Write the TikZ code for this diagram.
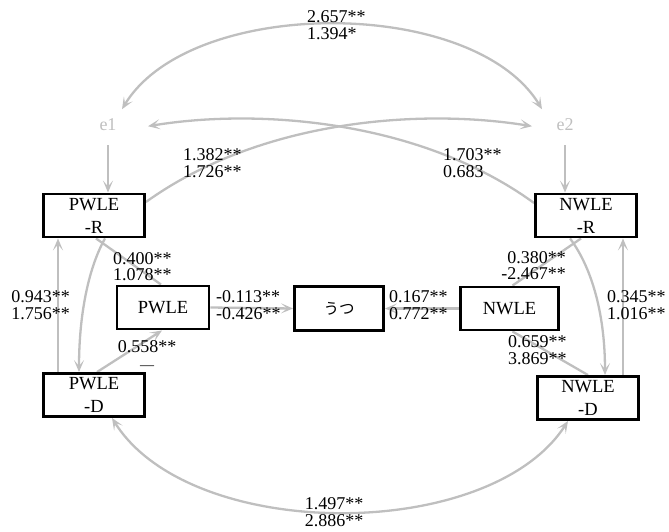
\documentclass[tikz,border=0pt]{standalone}
\usepackage{fontspec}
\setmainfont{Liberation Serif}
\newfontfamily\jpfont{Noto Sans CJK JP}
\usetikzlibrary{arrows.meta,backgrounds}
\begin{document}
\begin{tikzpicture}[x=1pt,y=-1pt,
  sembox/.style={draw=black,line width=2.9pt,fill=white,inner sep=0pt,align=center,
    minimum height=43pt,font=\fontsize{18.5}{23}\selectfont},
  wbox/.style={sembox,minimum width=101pt},
  errnode/.style={text=black!25,font=\fontsize{18}{18}\selectfont,inner sep=0pt},
  conn/.style={draw=black!25,line width=2.3pt},
  ar/.style={-{Stealth[length=12pt,width=10pt,inset=6pt]}},
  dar/.style={{Stealth[length=12pt,width=10pt,inset=6pt]}-{Stealth[length=12pt,width=10pt,inset=6pt]}},
  lab/.style={inner sep=0pt,font=\fontsize{18}{16.5}\selectfont}]
\useasboundingbox (0,0) rectangle (669,531);

% nodes
\node[errnode] (e1) at (108,125) {e1};
\node[errnode] (e2) at (565,125) {e2};
\node[wbox] (PR) at (94,215.5) {PWLE\\-R};
\node[wbox] (PD) at (94,395) {PWLE\\-D};
\node[wbox] (NR) at (586,215.5) {NWLE\\-R};
\node[wbox] (ND) at (588,398) {NWLE\\-D};
\node[sembox,minimum width=92pt] (P) at (163,307.5) {PWLE};
\node[sembox,minimum width=89pt,minimum height=44pt,font=\jpfont\fontsize{15.5}{18}\selectfont] (U) at (339,308.5) {うつ};
\node[sembox,minimum width=98pt] (N) at (509.5,308.5) {NWLE};

% connectors (behind boxes)
\begin{scope}[on background layer]
\draw[conn,ar] ([yshift=-14pt]e1.south) -- (e1.south |- PR.north);
\draw[conn,ar] ([yshift=-14pt]e2.south) -- (e2.south |- NR.north);
\draw[conn,dar] ([shift={(14pt,22pt)}]e1.south) .. controls (190,-4) and (474,-4) .. ([shift={(-23pt,22pt)}]e2.south);
\draw[conn,ar] ([yshift=13.5pt]PR.east) .. controls (260,120) and (420,108) .. ([shift={(-33pt,5pt)}]e2.south);
\draw[conn,ar] ([yshift=12.5pt]NR.west) .. controls (420,120) and (258,108) .. ([shift={(40pt,5pt)}]e1.south);
\draw[conn,ar] ([xshift=11pt]PR.south) .. controls (90,265) and (79,310) .. ([xshift=-15pt]PD.north);
\draw[conn,ar] ([xshift=-36pt]PD.north) -- ([xshift=-36pt]PD.north |- PR.south);
\draw[conn] ([xshift=2pt]PR.south) -- ([xshift=-2pt]P.north);
\draw[conn,ar] ([xshift=3pt]PD.north) -- ([xshift=-1pt]P.south);
\draw[conn,ar] (P.east) -- (U.west);
\draw[conn,ar] (N.west) -- (U.east);
\draw[conn] ([xshift=-5pt]NR.south) -- ([xshift=3pt]N.north);
\draw[conn] ([xshift=3pt]N.south) -- (ND.north);
\draw[conn,ar] ([xshift=-16pt]NR.south) .. controls (590,265) and (605,310) .. ([xshift=17pt]ND.north);
\draw[conn,ar] ([xshift=35pt]ND.north) -- ([xshift=35pt]ND.north |- NR.south);
\draw[conn,dar] ([xshift=18pt]PD.south) .. controls (190,543) and (490,543) .. ([xshift=-20pt]ND.south);
\end{scope}

% labels
\node[lab,align=left,anchor=west] (l1) at (307,25) {2.657**\\1.394*};
\node[lab,align=left,anchor=west] (l2) at (183,163) {1.382**\\1.726**};
\node[lab,align=left,anchor=west] (l3) at (443,163) {1.703**\\0.683};
\node[lab,align=left,anchor=west] (l4) at (113,266.5) {0.400**\\1.078**};
\node[lab,align=left,anchor=west] (l5) at (216,305) {-0.113**\\-0.426**};
\node[lab,align=left,anchor=west] (l6) at (389,305) {0.167**\\0.772**};
\node[lab,align=right,anchor=east] (l7) at (566,265.5) {0.380**\\-2.467**};
\node[lab,align=right,anchor=east] (l8) at (70,305) {0.943**\\1.756**};
\node[lab,align=left,anchor=west] (l9) at (607,305) {0.345**\\1.016**};
\node[lab,align=center] (l10) at (147,355) {0.558**\\{\fontsize{14}{16.5}\selectfont —}};
\node[lab,align=left,anchor=west] (l11) at (508,350) {0.659**\\3.869**};
\node[lab,align=center] (l12) at (334,512) {1.497**\\2.886**};
\end{tikzpicture}
\end{document}
